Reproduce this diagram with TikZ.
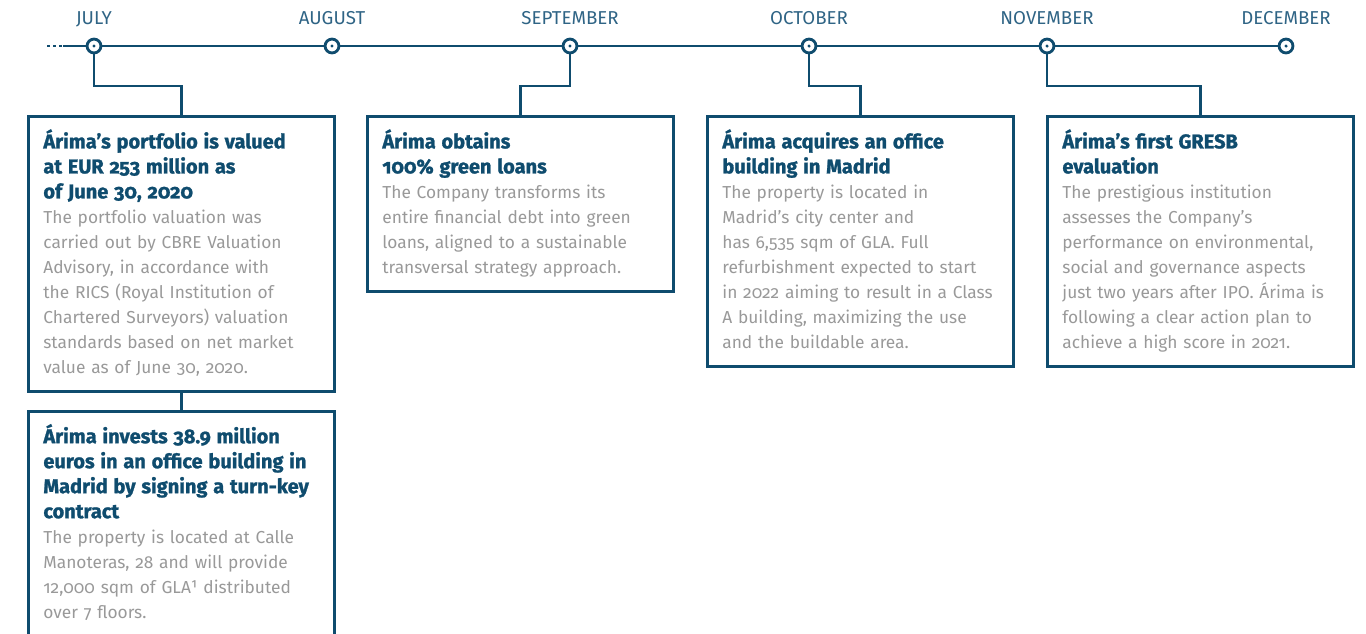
\documentclass[tikz,border=0pt]{standalone}
\usepackage{fontspec}
\setmainfont{Fira Sans}[Numbers=OldStyle, BoldFeatures={FakeBold=1.2}]
\usepackage{tikz}
\usetikzlibrary{positioning}

\definecolor{arima}{HTML}{0F4C6E}
\definecolor{arimagrey}{HTML}{999999}
\definecolor{arimamonth}{HTML}{2F6485}

\tikzset{
  link/.style={draw=arima, line width=2.1pt},
  marker/.style={circle, draw=arima, fill=white, line width=2.1pt, minimum size=10.4pt, inner sep=0pt,
    path picture={\fill[arima] (path picture bounding box.center) circle (1.3pt);}},
  month/.style={anchor=base, inner sep=0pt, text=arimamonth, font=\fontsize{14}{16}\selectfont},
  event/.style={draw=arima, line width=2.1pt, anchor=north west, text width=207pt,
    inner xsep=11.25pt, inner ysep=0pt, align=left, text=arimagrey,
    font=\fontsize{13}{18.75}\selectfont,
    execute at begin node={\rule{0pt}{24pt}}, execute at end node={\rule[-13.5pt]{0pt}{13.5pt}}},
  longevent/.style={event, execute at end node={\rule[-60pt]{0pt}{60pt}}}
}
\newcommand{\evtitle}[1]{{\color{arima}\bfseries\fontsize{15}{18.75}\selectfont #1}}

\begin{document}
\begin{tikzpicture}[x=0.75pt, y=-0.75pt]
  \useasboundingbox (0,0) rectangle (1366,633);
  \clip (0,0) rectangle (1366,633);

  \foreach \x/\m [count=\i] in {94/JULY,332/AUGUST,570/SEPTEMBER,809/OCTOBER,1047/NOVEMBER,1286/DECEMBER} {
    \node[marker] (m\i) at (\x,46) {};
    \node[month] (l\i) at (\x,24.5) {\m};
  }
  \coordinate (dots) at (47,46);
  \coordinate (tl) at (63,46);
  \draw[arima, line width=2.1pt, dash pattern=on 1.9pt off 2.6pt] (dots) -- (tl);
  \foreach \a/\b in {tl/m1,m1/m2,m2/m3,m3/m4,m4/m5,m5/m6}
    \draw[link] (\a) -- (\b);

  \node[event] (b1) at (27,115) {\evtitle{Árima’s portfolio is valued\\ at EUR 253 million as\\ of June 30, 2020}\\
    The portfolio valuation was\\ carried out by CBRE Valuation\\ Advisory, in accordance with\\
    the RICS (Royal Institution of\\ Chartered Surveyors) valuation\\ standards based on net market\\
    value as of June 30, 2020.};
  \node[longevent, below=12.75pt of b1, anchor=north] (b1b)
    {\evtitle{Árima invests 38.9 million\\ euros in an office building in\\ Madrid by signing a turn-key\\ contract}\\
    The property is located at Calle\\ Manoteras, 28 and will provide\\ 12,000 sqm of GLA¹ distributed\\
    over 7 floors.};
  \node[event] (b2) at (366,115) {\evtitle{Árima obtains\\ 100\% green loans}\\
    The Company transforms its\\ entire financial debt into green\\ loans, aligned to a sustainable\\
    transversal strategy approach.};
  \node[event] (b3) at (706,115) {\evtitle{Árima acquires an office\\ building in Madrid}\\
    The property is located in\\ Madrid’s city center and\\ has 6,535 sqm of GLA. Full\\
    refurbishment expected to start\\ in 2022 aiming to result in a Class\\ A building, maximizing the use\\
    and the buildable area.};
  \node[event] (b4) at (1046,115) {\evtitle{Árima’s first GRESB\\ evaluation}\\
    The prestigious institution\\ assesses the Company’s\\ performance on environmental,\\
    social and governance aspects\\ just two years after IPO. Árima is\\ following a clear action plan to\\
    achieve a high score in 2021.};

  \foreach \i/\b in {1/b1,3/b2,4/b3,5/b4}
    \draw[link] (m\i) -- (m\i |- 0,86) -| (\b.north);
  \draw[link] (b1) -- (b1b);
\end{tikzpicture}
\end{document}
